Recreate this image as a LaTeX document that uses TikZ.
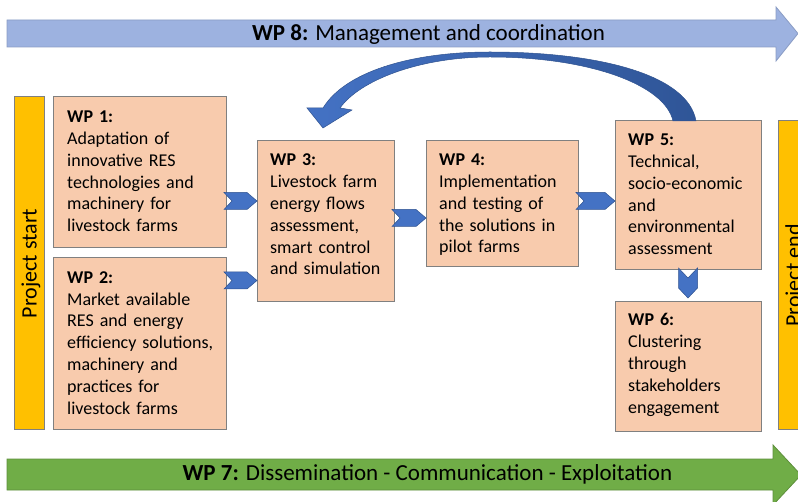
\documentclass[tikz,border=0pt]{standalone}
\usepackage{fontspec}
\setmainfont{Carlito}
\usetikzlibrary{calc}
\definecolor{boxfill}{HTML}{F8CBAD}
\definecolor{boxline}{HTML}{808080}
\definecolor{barfill}{HTML}{FFC000}
\definecolor{mgmtfill}{HTML}{9DB2E0}
\definecolor{mgmtline}{HTML}{8A9CC4}
\definecolor{dissfill}{HTML}{70AD47}
\definecolor{dissline}{HTML}{5E8F3C}
\definecolor{chevfill}{HTML}{4472C4}
\definecolor{chevline}{HTML}{2F528F}
\definecolor{loopdark}{HTML}{2F5597}

% horizontal chevron from the east side of #1 to the west side of #2 at height #3
\newcommand\hchev[3]{%
  \draw[chev] let \p1=(#1.east), \p2=(#2.west), \p3=(0,#3) in
    (\x1-2pt,\y3+8.5pt) -- (\x2-10pt,\y3+8.5pt) -- (\x2,\y3)
    -- (\x2-10pt,\y3-8.5pt) -- (\x1-2pt,\y3-8.5pt) -- (\x1+6pt,\y3) -- cycle;}

\begin{document}
\begin{tikzpicture}[x=1pt,y=-1pt,
  wpbox/.style={draw=boxline, fill=boxfill, line width=1pt, anchor=north west,
    inner sep=0pt, outer sep=0pt},
  bar/.style={draw=boxline, fill=barfill, line width=1pt, anchor=north west,
    inner sep=0pt, outer sep=0pt},
  wptext/.style={anchor=base west, inner sep=0pt, text width=190pt, align=left,
    font=\fontsize{18}{21.8}\selectfont},
  bartext/.style={anchor=base, rotate=90, inner sep=0pt,
    font=\fontsize{22}{26}\selectfont},
  bandtext/.style={anchor=base, inner sep=0pt, font=\fontsize{23}{27}\selectfont},
  chev/.style={fill=chevfill, draw=chevline, line width=0.5pt, line join=miter}]

\useasboundingbox (0,0) rectangle (798,502);
\clip (0,0) rectangle (798,502);

% management band
\draw[fill=mgmtfill, draw=mgmtline, line width=0.8pt]
  (7,20) -- (776,20) -- (776,7) -- (798,33.5) -- (776,61) -- (776,47) -- (7,47) -- cycle;
\node[bandtext] (wp8) at (428.5,41) {\textbf{WP 8:} Management and coordination};

% dissemination band
\draw[fill=dissfill, draw=dissline, line width=0.8pt]
  (7,459) -- (773,459) -- (773,445) -- (801,475) -- (773,505) -- (773,490) -- (7,490) -- cycle;
\node[bandtext] (wp7) at (427.5,480.5) {\textbf{WP 7:} Dissemination - Communication - Exploitation};

% project start / end bars
\node[bar, minimum width=30pt, minimum height=333pt] (start) at (14,97) {};
\node[bartext] (starttext) at (36.6,263.5) {Project start};
\node[bar, minimum width=30pt, minimum height=309pt] (end) at (778,121) {};
\node[bartext] (endtext) at (800.5,275.5) {Project end};

% work package boxes
\node[wpbox, minimum width=173pt, minimum height=151pt] (wp1) at (53,97) {};
\node[wpbox, minimum width=173pt, minimum height=172pt] (wp2) at (53,258) {};
\node[wpbox, minimum width=137pt, minimum height=161pt] (wp3) at (257,141) {};
\node[wpbox, minimum width=152pt, minimum height=126pt] (wp4) at (426,141) {};
\node[wpbox, minimum width=146pt, minimum height=149pt] (wp5) at (615,121) {};
\node[wpbox, minimum width=146pt, minimum height=130pt] (wp6) at (615,302) {};

\node[wptext] (t1) at ($(wp1.north west)+(14,25.7)$)
  {\textbf{WP 1:}\\Adaptation of\\innovative RES\\technologies and\\machinery for\\livestock farms};
\node[wptext] (t2) at ($(wp2.north west)+(14,25.3)$)
  {\textbf{WP 2:}\\Market available\\RES and energy\\efficiency solutions,\\machinery and\\practices for\\livestock farms};
\node[wptext] (t3) at ($(wp3.north west)+(13,25)$)
  {\textbf{WP 3:}\\Livestock farm\\energy flows\\assessment,\\smart control\\and simulation};
\node[wptext] (t4) at ($(wp4.north west)+(13,24.7)$)
  {\textbf{WP 4:}\\Implementation\\and testing of\\the solutions in\\pilot farms};
\node[wptext] (t5) at ($(wp5.north west)+(13,24.7)$)
  {\textbf{WP 5:}\\Technical,\\socio-economic\\and\\environmental\\assessment};
\node[wptext] (t6) at ($(wp6.north west)+(13,24)$)
  {\textbf{WP 6:}\\Clustering\\through\\stakeholders\\engagement};

% chevron connectors
\hchev{wp1}{wp3}{201}
\hchev{wp2}{wp3}{280.5}
\hchev{wp3}{wp4}{218}
\hchev{wp4}{wp5}{201}
\draw[chev] let \p1=(wp5.south), \p2=(wp6.north) in
  (\x1-9.5pt,\y1+2pt) -- (\x1,\y1-8pt) -- (\x1+9.5pt,\y1+2pt)
  -- (\x1+9.5pt,\y2+14pt) -- (\x1,\y2+4pt) -- (\x1-9.5pt,\y2+14pt) -- cycle;

% feedback loop from WP 5 back towards WP 3
\draw[left color=chevfill, right color=loopdark, draw=chevline, line width=0.5pt]
  (673,121) .. controls (665,85) and (590,57) .. (490,57)
  .. controls (420,57) and (360,80) .. (340,108)
  -- (352,110) -- (323,128) -- (307,108) -- (323,108)
  .. controls (345,72) and (410,52) .. (490,52)
  .. controls (600,52) and (688,75) .. (696,121) -- cycle;

\end{tikzpicture}
\end{document}
